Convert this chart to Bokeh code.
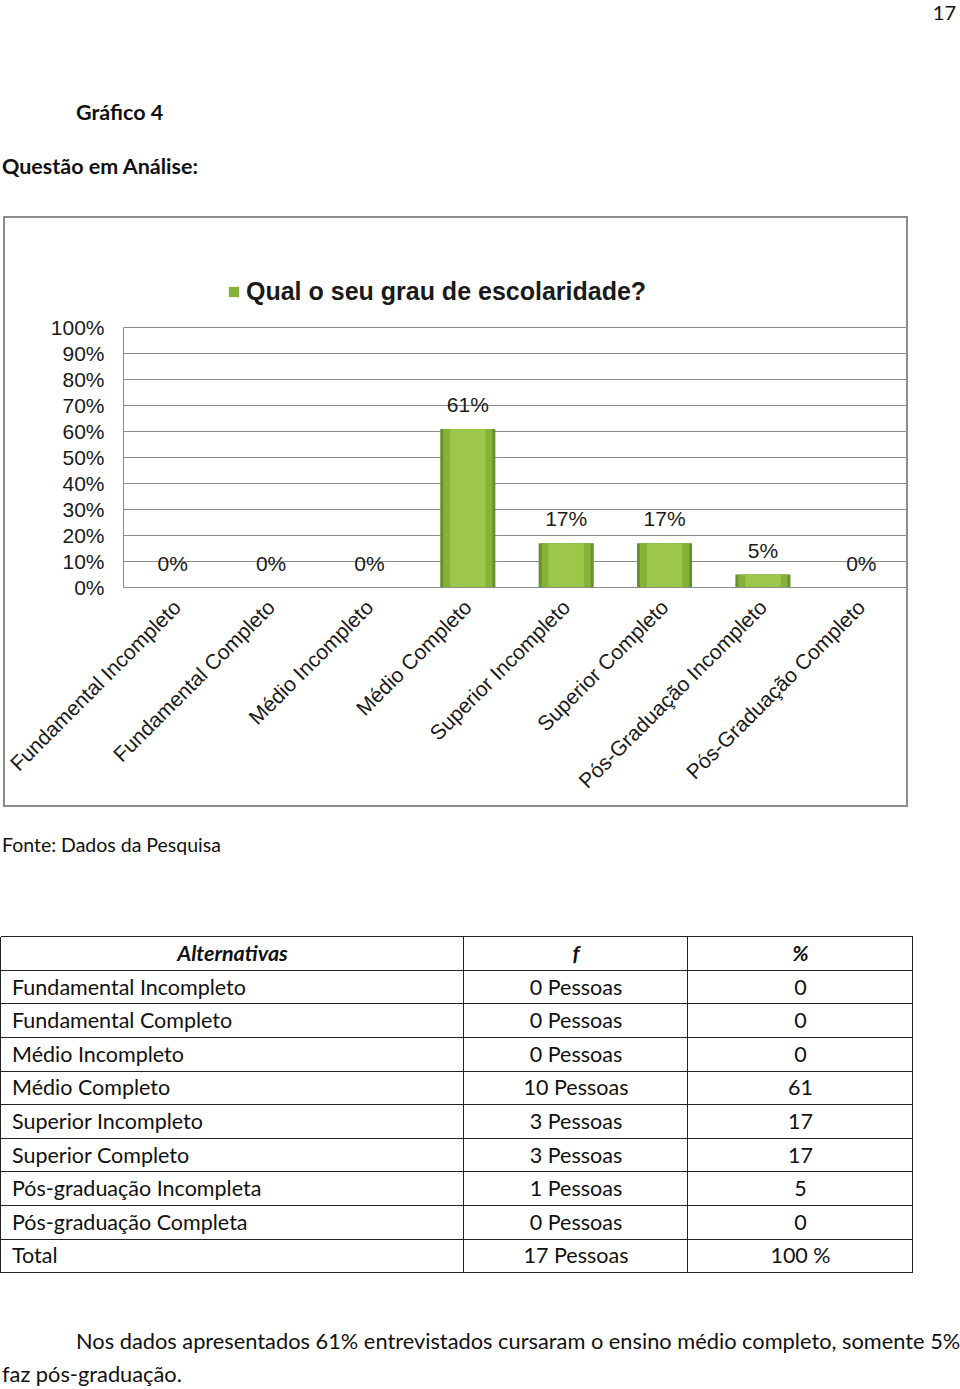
import math
from bokeh.plotting import figure
from bokeh.models import (FactorRange, Range1d, ColumnDataSource, Legend, LegendItem,
                          PrintfTickFormatter, FixedTicker, Div)
from bokeh.layouts import column
from bokeh.core.properties import value
from bokeh.embed import file_html
from bokeh.resources import INLINE

# ---------------- data ----------------
categories = ["Fundamental Incompleto", "Fundamental Completo", "Médio Incompleto",
              "Médio Completo", "Superior Incompleto", "Superior Completo",
              "Pós-Graduação Incompleto", "Pós-Graduação Completo"]
percent = [0, 0, 0, 61, 17, 17, 5, 0]
y_ticks = [0, 10, 20, 30, 40, 50, 60, 70, 80, 90, 100]
series_name = "Qual o seu grau de escolaridade?"

page_number = "17"
heading = "Gráfico 4"
question = "Questão em Análise:"
source_note = "Fonte: Dados da Pesquisa"

table_header = ["Alternativas", "f", "%"]
table_alternativas = ["Fundamental Incompleto", "Fundamental Completo", "Médio Incompleto",
                      "Médio Completo", "Superior Incompleto", "Superior Completo",
                      "Pós-graduação Incompleta", "Pós-graduação Completa", "Total"]
table_f = ["0 Pessoas", "0 Pessoas", "0 Pessoas", "10 Pessoas", "3 Pessoas", "3 Pessoas",
           "1 Pessoas", "0 Pessoas", "17 Pessoas"]
table_pct = ["0", "0", "0", "61", "17", "17", "5", "0", "100 %"]

paragraph_lines = ["Nos dados apresentados 61% entrevistados cursaram o ensino médio completo, somente 5%",
                   "faz pós-graduação."]

DOC_FONT = "Lato"
CHART_FONT = "Liberation Sans"
INK = "#111111"


def span(text, left, top, size, weight="normal", style="normal", extra=""):
    return (f'<div style="position:absolute;left:{left}px;top:{top}px;font-size:{size}px;'
            f'line-height:1;font-weight:{weight};font-style:{style};white-space:nowrap;{extra}">'
            f'{text}</div>')


# ---------------- header (page text above the chart) ----------------
head_html = (f'<div style="position:relative;width:960px;height:216px;font-family:{DOC_FONT};'
             f'color:{INK};background:white;overflow:hidden">'
             + f'<div style="position:absolute;right:4px;top:1px;font-size:20px;line-height:1.1">{page_number}</div>'
             + span(heading, 76, 102, 21.5, weight="bold")
             + span(question, 2, 156, 21.5, weight="bold")
             + '</div>')
head = Div(text=head_html, width=960, height=216, margin=0)

# ---------------- chart ----------------
# the frame reaches up into the legend area; the value axis itself is bounded to 0..100 %
Y_TOP = 135
chart = figure(width=905, height=591, x_range=FactorRange(*categories, range_padding=0),
               y_range=Range1d(0, Y_TOP), output_backend="svg", toolbar_location=None,
               min_border_left=118, min_border_right=0, min_border_top=18, min_border_bottom=222,
               margin=(0, 0, 0, 3),
               styles={"border": "2px solid #8c8c8c", "box-sizing": "border-box"})
chart.outline_line_color = None
chart.xgrid.visible = False
chart.ygrid.ticker = FixedTicker(ticks=y_ticks)
chart.ygrid.grid_line_color = "#8c8c8c"
chart.ygrid.grid_line_width = 1

src = ColumnDataSource(dict(cat=categories, pct=percent, label=[f"{v}%" for v in percent]))
chart.vbar(x="cat", top="pct", width=0.56, source=src, fill_color="#6a8f2c", line_color=None)
mid = chart.vbar(x="cat", top="pct", width=0.50, source=src, fill_color="#86b23a",
                 line_color=None)
chart.vbar(x="cat", top="pct", width=0.36, source=src, fill_color="#9cc74b", line_color=None)
chart.text(x="cat", y="pct", text="label", source=src, text_align="center",
           text_baseline="bottom", y_offset=-13, text_font=value(CHART_FONT),
           text_font_size="21px", text_color="#1a1a1a")

yax = chart.yaxis[0]
yax.ticker = FixedTicker(ticks=y_ticks)
yax.bounds = (0, 100)
yax.formatter = PrintfTickFormatter(format="%d%%")
yax.major_tick_line_color = None
yax.minor_tick_line_color = None
yax.axis_line_color = "#8c8c8c"
yax.major_label_text_font = CHART_FONT
yax.major_label_text_font_size = "21px"
yax.major_label_text_color = "#1a1a1a"
yax.major_label_standoff = 13

xax = chart.xaxis[0]
xax.major_label_orientation = math.pi / 4
xax.major_tick_line_color = None
xax.minor_tick_line_color = None
xax.axis_line_color = "#8c8c8c"
xax.major_label_text_font = CHART_FONT
xax.major_label_text_font_size = "21px"
xax.major_label_text_color = "#1a1a1a"
xax.major_label_standoff = 10

legend = Legend(items=[LegendItem(label=value(series_name), renderers=[mid])],
                location=(104, 281), orientation="horizontal",
                label_text_font=CHART_FONT, label_text_font_style="bold",
                label_text_font_size="25px", label_text_color="#1a1a1a",
                glyph_width=13, glyph_height=13, label_standoff=6,
                border_line_color=None, background_fill_alpha=0, padding=0, margin=0)
chart.add_layout(legend, "center")

# ---------------- bottom: source note, table, paragraph ----------------
BOT_TOP = 807
t_top, row_h = 937 - BOT_TOP, 33.6
col_x = [1, 464, 688, 913]
n_rows = len(table_alternativas) + 1

parts = [f'<div style="position:relative;width:960px;height:582px;font-family:{DOC_FONT};'
         f'color:{INK};background:white;overflow:hidden">']
parts.append(span(source_note, 2, 845 - BOT_TOP - 10, 19.5))

# table rules
for i in range(n_rows + 1):
    parts.append(f'<div style="position:absolute;left:{col_x[0]}px;top:{t_top + i * row_h - 0.75:.2f}px;'
                 f'width:{col_x[-1] - col_x[0]}px;height:0;border-top:1.5px solid #222"></div>')
for x in col_x:
    parts.append(f'<div style="position:absolute;left:{x - 0.75}px;top:{t_top}px;width:0;'
                 f'height:{n_rows * row_h:.2f}px;border-left:1.5px solid #222"></div>')


def cell(text, ci, ri, align, weight="normal", style="normal"):
    left = col_x[ci]
    width = col_x[ci + 1] - col_x[ci]
    pad = "padding-left:11px;" if align == "left" else ""
    return (f'<div style="position:absolute;left:{left}px;top:{t_top + ri * row_h:.2f}px;'
            f'width:{width}px;height:{row_h}px;display:flex;align-items:center;'
            f'justify-content:{"flex-start" if align == "left" else "center"};{pad}'
            f'box-sizing:border-box;font-size:21.5px;line-height:1;font-weight:{weight};'
            f'font-style:{style};white-space:nowrap">{text}</div>')


for ci, h in enumerate(table_header):
    parts.append(cell(h, ci, 0, "center", weight="bold", style="italic"))
for ri in range(len(table_alternativas)):
    parts.append(cell(table_alternativas[ri], 0, ri + 1, "left"))
    parts.append(cell(table_f[ri], 1, ri + 1, "center"))
    parts.append(cell(table_pct[ri], 2, ri + 1, "center"))

parts.append(span(paragraph_lines[0], 76, 1341 - BOT_TOP - 11, 21.8))
parts.append(span(paragraph_lines[1], 2, 1374 - BOT_TOP - 11, 21.8))
parts.append('</div>')
bottom = Div(text="".join(parts), width=960, height=582, margin=0)

layout = column(head, chart, bottom, spacing=0)
open("out.html", "w").write(file_html(layout, INLINE))
